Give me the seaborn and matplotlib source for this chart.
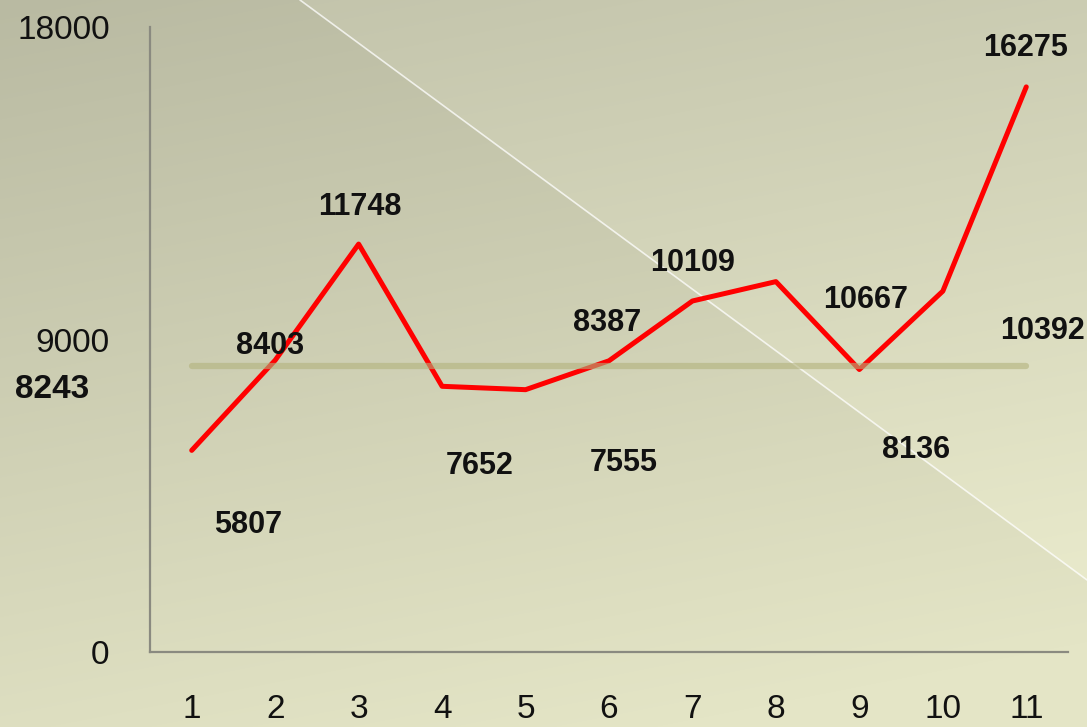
import numpy as np
import matplotlib
matplotlib.use("Agg")
import matplotlib.pyplot as plt
from matplotlib import font_manager
import seaborn as sns
import pandas as pd

# ---- data ----
periods = [1, 2, 3, 4, 5, 6, 7, 8, 9, 10, 11]
values = [5807, 8403, 11748, 7652, 7555, 8387, 10109, 10667, 8136, 10392, 16275]
average_value = 8243
y_ticks = [0, 9000, 18000]

# label offsets (pixels) as placed in the original
label_dx = [56, -5, 1, 38, 98, -2, 0, 90, 57, 100, -1]
label_dy = [-75, 14, 37, -80, -73, 38, 38, -18, -80, -40, 39]

sns.set_theme(style="white")
names = {f.name for f in font_manager.fontManager.ttflist}
narrow = "Liberation Sans Narrow" if "Liberation Sans Narrow" in names else None
if narrow:
    plt.rcParams["font.family"] = [narrow, "Liberation Sans", "DejaVu Sans"]
    tick_fs, lab_fs, avg_fs = 27, 26, 28
else:
    plt.rcParams["font.family"] = ["Liberation Sans", "DejaVu Sans"]
    tick_fs, lab_fs, avg_fs = 24, 22, 24

W, H = 1087, 727
fig = plt.figure(figsize=(W / 100, H / 100), dpi=100)

# ---- background gradient ----
bg = fig.add_axes([0, 0, 1, 1], zorder=-10)
yy, xx = np.mgrid[0:H, 0:W]
t = np.clip(0.25 * xx / W + 0.85 * yy / H, 0, 1)
top = np.array([0xb9, 0xba, 0xa2]) / 255
bot = np.array([0xe4, 0xe5, 0xc6]) / 255
img = top[None, None, :] * (1 - t[..., None]) + bot[None, None, :] * t[..., None]
# region above the diagonal slightly lighter
x0, y0, x1, y1 = 300, 0, 1087, 580
above = (yy - y0) * (x1 - x0) < (xx - x0) * (y1 - y0)
img[above] = np.clip(img[above] + 0.03, 0, 1)
bg.imshow(img, extent=[0, 1, 0, 1], aspect="auto", origin="upper")
bg.plot([x0 / W, 1], [1, 1 - y1 / H], color="white", lw=1.2, alpha=0.75)
bg.set_xlim(0, 1)
bg.set_ylim(0, 1)
bg.axis("off")

# ---- main axes ----
ax = fig.add_axes([150 / W, 1 - 652 / H, 918 / W, 625 / H])
ax.set_facecolor("none")
df = pd.DataFrame({"period": periods, "value": values})
sns.lineplot(data=df, x="period", y="value", ax=ax, color="#ff0000", lw=3.6, zorder=3)
ax.plot([periods[0], periods[-1]], [average_value, average_value],
        color="#b2b27c", lw=4.5, alpha=0.6, solid_capstyle="round", zorder=4)

ax.set_xlim(0.5, 11.5)
ax.set_ylim(0, 18000)
ax.set_xticks(periods)
ax.set_yticks(y_ticks)
ax.set_xticklabels([str(p) for p in periods])
ax.set_yticklabels([str(v) for v in y_ticks])
ax.tick_params(axis="both", length=0, labelsize=tick_fs, colors="#111111")
ax.tick_params(axis="y", pad=29)
ax.tick_params(axis="x", pad=30)
ax.set_xlabel("")
ax.set_ylabel("")
for s in ["top", "right"]:
    ax.spines[s].set_visible(False)
for s in ["left", "bottom"]:
    ax.spines[s].set_color("#8a8a80")
    ax.spines[s].set_linewidth(1.6)

for p, v, dx, dy in zip(periods, values, label_dx, label_dy):
    ax.annotate(str(v), xy=(p, v), xytext=(dx, dy), textcoords="offset pixels",
                ha="center", va="center", fontsize=lab_fs, fontweight="bold",
                color="#111111", zorder=5)

ax.annotate(str(average_value), xy=(0, average_value), xycoords=("axes fraction", "data"),
            xytext=(-98, -24), textcoords="offset pixels", ha="center", va="center",
            fontsize=avg_fs, fontweight="bold", color="#111111", annotation_clip=False)

fig.savefig("out.png", dpi=100)
